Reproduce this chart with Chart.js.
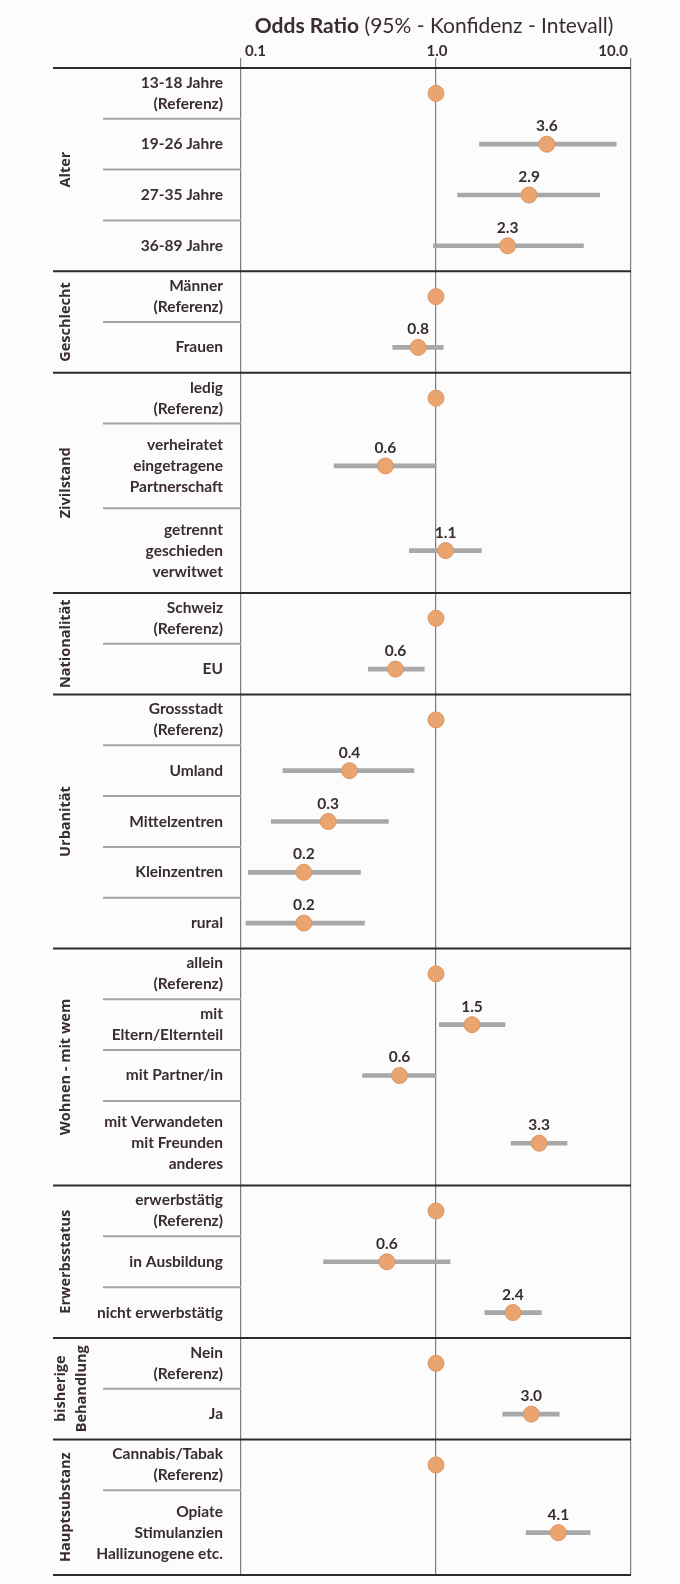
<!DOCTYPE html>
<html lang="de">
<head>
    <meta charset="UTF-8">
    <title>Odds Ratio (95% - Konfidenz - Intevall)</title>
    <script src="https://cdn.jsdelivr.net/npm/chart.js"></script>
    <style>
        body { margin: 0; background: #fcfcfc; }
    </style>
</head>
<body>
    <canvas id="orChart" width="680" height="1584"></canvas>

    <script>
        // Gruppen (links, gedreht) und Zeilen
        const groups = ['Alter', 'Geschlecht', 'Zivilstand', 'Nationalität', 'Urbanität',
            'Wohnen - mit wem', 'Erwerbsstatus', 'bisherige\nBehandlung', 'Hauptsubstanz'];
        const rowGroup = [0, 0, 0, 0, 1, 1, 2, 2, 2, 3, 3, 4, 4, 4, 4, 4, 5, 5, 5, 5, 6, 6, 6, 7, 7, 8, 8];
        const rowLabels = [
            '13-18 Jahre\n(Referenz)', '19-26 Jahre', '27-35 Jahre', '36-89 Jahre',
            'Männer\n(Referenz)', 'Frauen',
            'ledig\n(Referenz)', 'verheiratet\neingetragene\nPartnerschaft', 'getrennt\ngeschieden\nverwitwet',
            'Schweiz\n(Referenz)', 'EU',
            'Grossstadt\n(Referenz)', 'Umland', 'Mittelzentren', 'Kleinzentren', 'rural',
            'allein\n(Referenz)', 'mit\nEltern/Elternteil', 'mit Partner/in', 'mit Verwandeten\nmit Freunden\nanderes',
            'erwerbstätig\n(Referenz)', 'in Ausbildung', 'nicht erwerbstätig',
            'Nein\n(Referenz)', 'Ja',
            'Cannabis/Tabak\n(Referenz)', 'Opiate\nStimulanzien\nHallizunogene etc.'
        ];

        // Odds Ratio und 95%-KI (null = Referenz)
        const oddsRatio = [1, 3.7, 3.0, 2.33, 1, 0.81, 1, 0.55, 1.12, 1, 0.62, 1, 0.36, 0.28, 0.21, 0.21,
            1, 1.53, 0.65, 3.38, 1, 0.56, 2.48, 1, 3.08, 1, 4.24];
        const ciLow = [null, 1.67, 1.29, 0.97, null, 0.60, null, 0.30, 0.73, null, 0.45, null, 0.164, 0.143, 0.109, 0.106,
            null, 1.04, 0.42, 2.43, null, 0.265, 1.78, null, 2.2, null, 2.9];
        const ciHigh = [null, 8.4, 6.9, 5.7, null, 1.09, null, 1.0, 1.71, null, 0.87, null, 0.77, 0.57, 0.41, 0.43,
            null, 2.26, 1.0, 4.7, null, 1.18, 3.47, null, 4.28, null, 6.17];
        const valueLabels = ['', '3.6', '2.9', '2.3', '', '0.8', '', '0.6', '1.1', '', '0.6', '', '0.4', '0.3', '0.2', '0.2',
            '', '1.5', '0.6', '3.3', '', '0.6', '2.4', '', '3.0', '', '4.1'];

        const tickValues = [0.1, 1, 10];
        const tickLabels = ['0.1', '1.0', '10.0'];

        const textColor = '#3a2d2d';

        // Zeilenhöhe: 3 Einheiten, dreizeilige Beschriftung 5 Einheiten
        const rowUnits = rowLabels.map(l => l.split('\n').length >= 3 ? 5 : 3);
        const rowStart = [];
        let acc = 0;
        rowUnits.forEach(u => { rowStart.push(acc); acc += u; });
        const totalUnits = acc;
        const rowCenter = rowStart.map((s, i) => s + rowUnits[i] / 2);

        const ciData = [];
        oddsRatio.forEach((v, i) => {
            if (ciLow[i] !== null) ciData.push({ x: [ciLow[i], ciHigh[i]], y: rowCenter[i] });
        });
        const pointData = oddsRatio.map((v, i) => ({ x: v, y: rowCenter[i] }));

        const forestDecor = {
            id: 'forestDecor',
            beforeDatasetsDraw(chart) {
                const { ctx, chartArea, scales: { x, y } } = chart;
                ctx.save();

                // Trennlinien
                rowLabels.forEach((l, i) => {
                    const top = y.getPixelForValue(rowStart[i]);
                    if (i === 0 || rowGroup[i] !== rowGroup[i - 1]) {
                        ctx.strokeStyle = '#2e2a2a';
                        ctx.lineWidth = 2;
                        ctx.beginPath();
                        ctx.moveTo(53, top);
                        ctx.lineTo(chartArea.right, top);
                        ctx.stroke();
                    } else {
                        ctx.strokeStyle = '#a3a3a3';
                        ctx.lineWidth = 2;
                        ctx.beginPath();
                        ctx.moveTo(103, top);
                        ctx.lineTo(chartArea.left, top);
                        ctx.stroke();
                    }
                });
                const bottom = y.getPixelForValue(totalUnits);
                ctx.strokeStyle = '#2e2a2a';
                ctx.lineWidth = 2;
                ctx.beginPath();
                ctx.moveTo(53, bottom);
                ctx.lineTo(chartArea.right, bottom);
                ctx.stroke();

                // Zeilenbeschriftung
                ctx.fillStyle = textColor;
                ctx.font = 'bold 15.5px Lato';
                ctx.textAlign = 'right';
                ctx.textBaseline = 'middle';
                rowLabels.forEach((l, i) => {
                    const lines = l.split('\n');
                    const cy = y.getPixelForValue(rowCenter[i]);
                    lines.forEach((t, k) => {
                        ctx.fillText(t, 223, cy + (k - (lines.length - 1) / 2) * 21);
                    });
                });

                // Gruppenbeschriftung (gedreht)
                ctx.font = 'bold 14.5px "Open Sans"';
                ctx.textAlign = 'center';
                groups.forEach((g, gi) => {
                    const idx = rowGroup.map((r, i) => r === gi ? i : -1).filter(i => i >= 0);
                    const y0 = y.getPixelForValue(rowStart[idx[0]]);
                    const last = idx[idx.length - 1];
                    const y1 = y.getPixelForValue(rowStart[last] + rowUnits[last]);
                    const parts = g.split('\n');
                    parts.forEach((t, k) => {
                        ctx.save();
                        ctx.translate((parts.length > 1 ? 61 : 66) + k * 21, (y0 + y1) / 2);
                        ctx.rotate(-Math.PI / 2);
                        ctx.fillText(t, 0, 0);
                        ctx.restore();
                    });
                });

                // Achsenbeschriftung oben
                ctx.font = 'bold 15px Lato';
                tickValues.forEach((v, i) => {
                    const px = x.getPixelForValue(v);
                    ctx.textAlign = i === 0 ? 'left' : (i === tickValues.length - 1 ? 'right' : 'center');
                    const off = i === 0 ? 4 : (i === tickValues.length - 1 ? -3 : 1);
                    ctx.fillText(tickLabels[i], px + off, 51);
                });

                // Titel
                const boldPart = 'Odds Ratio';
                const normPart = ' (95% - Konfidenz - Intevall)';
                ctx.font = 'bold 21px Lato';
                const w1 = ctx.measureText(boldPart).width;
                ctx.font = '21px Lato';
                const w2 = ctx.measureText(normPart).width;
                const startX = 434 - (w1 + w2) / 2;
                ctx.textAlign = 'left';
                ctx.font = 'bold 21px Lato';
                ctx.fillText(boldPart, startX, 26);
                ctx.font = '21px Lato';
                ctx.fillText(normPart, startX + w1, 26);

                ctx.restore();
            },
            afterDatasetsDraw(chart) {
                const { ctx } = chart;
                const meta = chart.getDatasetMeta(1);
                ctx.save();
                ctx.fillStyle = textColor;
                ctx.font = 'bold 15.5px Lato';
                ctx.textAlign = 'center';
                ctx.textBaseline = 'middle';
                meta.data.forEach((pt, i) => {
                    if (valueLabels[i]) ctx.fillText(valueLabels[i], pt.x, pt.y - 18);
                });
                ctx.restore();
            }
        };

        const ctx = document.getElementById('orChart').getContext('2d');
        new Chart(ctx, {
            type: 'scatter',
            data: {
                datasets: [
                    {
                        type: 'bar',
                        label: '95%-KI',
                        indexAxis: 'y',
                        data: ciData,
                        backgroundColor: '#a8a8a8',
                        barThickness: 4,
                        order: 2
                    },
                    {
                        type: 'scatter',
                        label: 'Odds Ratio',
                        data: pointData,
                        pointRadius: 8,
                        backgroundColor: '#e9a46f',
                        borderColor: '#dc955f',
                        borderWidth: 1,
                        order: 1
                    }
                ]
            },
            options: {
                responsive: false,
                animation: false,
                layout: { padding: { left: 241, right: 49, top: 58, bottom: 2 } },
                plugins: {
                    legend: { display: false },
                    tooltip: { enabled: false }
                },
                scales: {
                    x: {
                        type: 'logarithmic',
                        position: 'top',
                        min: 0.1,
                        max: 10,
                        offset: false,
                        afterBuildTicks: s => { s.ticks = tickValues.map(v => ({ value: v })); },
                        ticks: { display: false },
                        grid: { color: '#7d7d7d', lineWidth: 1.2, tickLength: 10, drawTicks: true, offset: false },
                        border: { display: false }
                    },
                    y: {
                        type: 'linear',
                        min: 0,
                        max: totalUnits,
                        reverse: true,
                        offset: false,
                        grid: { offset: false },
                        display: false
                    }
                }
            },
            plugins: [forestDecor]
        });
    </script>
</body>
</html>
